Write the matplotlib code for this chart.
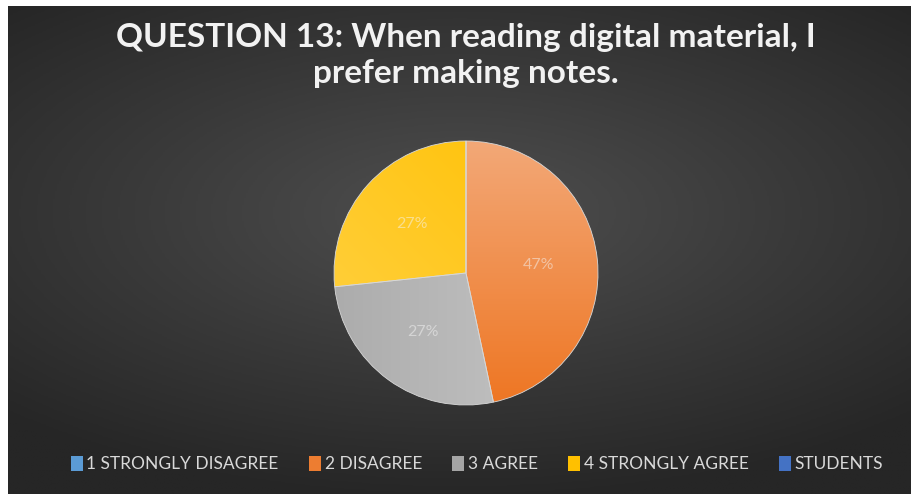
import numpy as np
import matplotlib.pyplot as plt
from matplotlib.patches import Patch
from matplotlib.colors import LinearSegmentedColormap

title = "QUESTION 13: When reading digital material, I\nprefer making notes."
categories = ["1 STRONGLY DISAGREE", "2 DISAGREE", "3 AGREE", "4 STRONGLY AGREE"]
students = [0, 7, 4, 4]
series_name = "STUDENTS"

legend_colors = ["#5B9BD5", "#ED7D31", "#A5A5A5", "#FFC000", "#4472C4"]
# light/dark ends and direction of each slice's gradient
slice_grads = [("#7FB2E0", "#5B9BD5", "v"),
               ("#F3A877", "#EE7623", "v"),
               ("#ACACAC", "#C8C8C8", "h"),
               ("#FFC000", "#FFD247", "d")]

fig = plt.figure(figsize=(9.12, 4.94), dpi=100)
fig.patch.set_facecolor("white")

# dark radial background
bg = fig.add_axes([8 / 912, 0, 904 / 912, 488 / 494])
yy, xx = np.mgrid[-1:1:300j, -1:1:500j]
rr = np.sqrt((xx * 0.9) ** 2 + ((yy + 0.15) * 1.1) ** 2)
bg_cmap = LinearSegmentedColormap.from_list("bg", ["#4F4F4F", "#3A3A3A", "#262626"])
bg.imshow(rr, cmap=bg_cmap, aspect="auto", extent=[0, 1, 0, 1], vmin=0, vmax=1.3)
bg.set_axis_off()

fig.text(0.511, 0.887, title, ha="center", va="center", color="#F2F2F2",
         fontsize=24, fontweight="bold", family="Lato", linespacing=1.28)

ax = fig.add_axes([334 / 912, 89 / 494, 264 / 912, 264 / 494])
ax.set_facecolor("none")


def pct(p):
    return "" if p < 0.5 else f"{p:.0f}%"


wedges, texts, autotexts = ax.pie(students, startangle=90, counterclock=False,
                                  colors=legend_colors[:4], autopct=pct,
                                  pctdistance=0.55, radius=1,
                                  wedgeprops=dict(linewidth=0.6, edgecolor="#D8D8D8"),
                                  textprops=dict(color="#F5F5F5", alpha=0.5,
                                                 fontsize=11.5, family="Lato"))

gy, gx = np.mgrid[1:-1:200j, -1:1:200j]
for w, (c1, c2, mode) in zip(wedges, slice_grads):
    if mode == "v":
        g = (1 - gy) / 2
    elif mode == "h":
        g = (gx + 1) / 2
    else:
        g = ((1 - gx) + (1 - gy)) / 4
    cm = LinearSegmentedColormap.from_list("s", [c1, c2])
    im = ax.imshow(g, cmap=cm, extent=[-1, 1, -1, 1], vmin=0, vmax=1, zorder=0.5)
    im.set_clip_path(w)
    w.set_facecolor("none")
    w.set_zorder(1)

ax.set_xlim(-1, 1)
ax.set_ylim(-1, 1)
ax.set_aspect("equal")
ax.set_axis_off()

handles = [Patch(facecolor=c, edgecolor="none") for c in legend_colors]
leg = fig.legend(handles, categories + [series_name], loc="center",
                 bbox_to_anchor=(0.523, 0.06), ncol=5, frameon=False,
                 handlelength=0.7, handleheight=0.9, handletextpad=0.2,
                 columnspacing=1.75, prop=dict(family="Lato", size=12.5))
for t in leg.get_texts():
    t.set_color("#D9D9D9")

fig.savefig("out.png", dpi=100)
